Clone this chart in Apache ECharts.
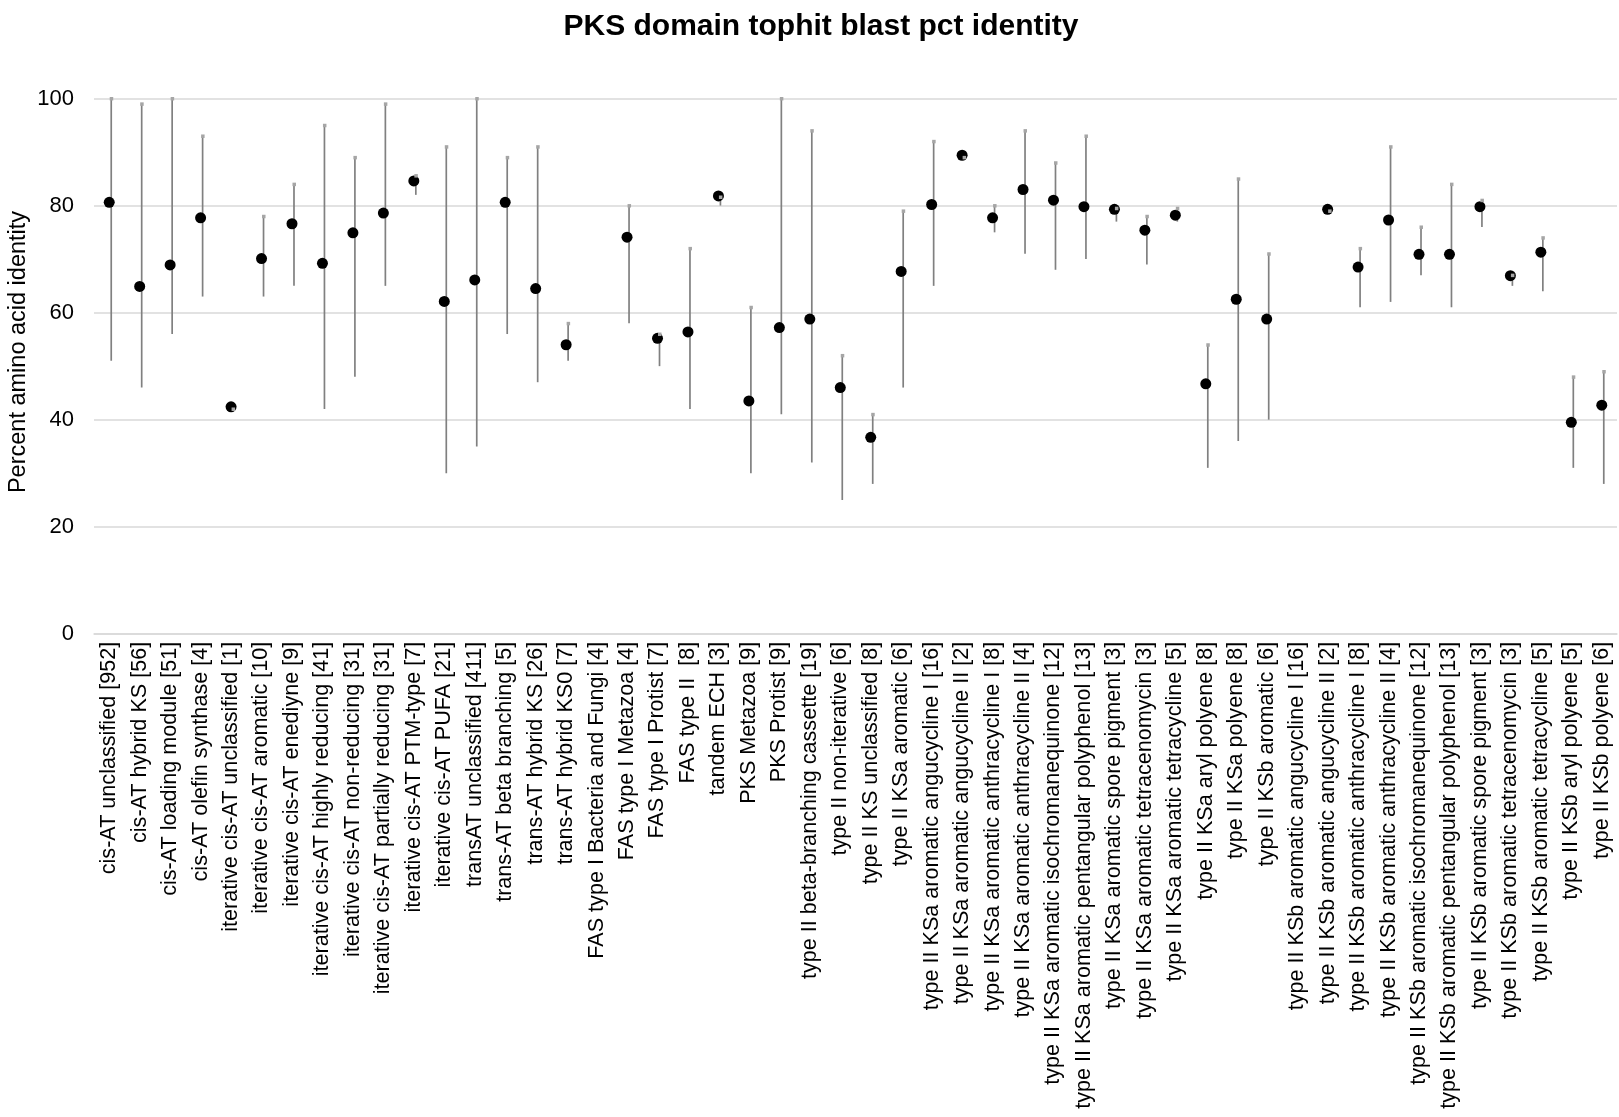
<!DOCTYPE html>
<html>
<head>
<meta charset="utf-8">
<script src="https://cdn.jsdelivr.net/npm/echarts@6/dist/echarts.min.js"></script>
<style>
html, body { margin: 0; padding: 0; background: #fff; }
#chart { width: 1619px; height: 1117px; }
</style>
</head>
<body>
<div id="chart"></div>
<script>
// domain classes with number of hits in brackets
const categories = [
    'cis-AT unclassified [952]', 'cis-AT hybrid KS [56]', 'cis-AT loading module [51]', 'cis-AT olefin synthase [4]',
    'iterative cis-AT unclassified [1]', 'iterative cis-AT aromatic [10]', 'iterative cis-AT enediyne [9]',
    'iterative cis-AT highly reducing [41]', 'iterative cis-AT non-reducing [31]', 'iterative cis-AT partially reducing [31]',
    'iterative cis-AT PTM-type [7]', 'iterative cis-AT PUFA [21]', 'transAT unclassified [411]', 'trans-AT beta branching [5]',
    'trans-AT hybrid KS [26]', 'trans-AT hybrid KS0 [7]', 'FAS type I Bacteria and Fungi [4]', 'FAS type I Metazoa [4]',
    'FAS type I Protist [7]', 'FAS type II  [8]', 'tandem ECH [3]', 'PKS Metazoa [9]', 'PKS Protist [9]',
    'type II beta-branching cassette [19]', 'type II non-iterative [6]', 'type II KS unclassified [8]',
    'type II KSa aromatic [6]', 'type II KSa aromatic angucycline I [16]', 'type II KSa aromatic angucycline II [2]',
    'type II KSa aromatic anthracycline I [8]', 'type II KSa aromatic anthracycline II [4]',
    'type II KSa aromatic isochromanequinone [12]', 'type II KSa aromatic pentangular polyphenol [13]',
    'type II KSa aromatic spore pigment [3]', 'type II KSa aromatic tetracenomycin [3]', 'type II KSa aromatic tetracycline [5]',
    'type II KSa aryl polyene [8]', 'type II KSa polyene [8]', 'type II KSb aromatic [6]',
    'type II KSb aromatic angucycline I [16]', 'type II KSb aromatic angucycline II [2]',
    'type II KSb aromatic anthracycline I [8]', 'type II KSb aromatic anthracycline II [4]',
    'type II KSb aromatic isochromanequinone [12]', 'type II KSb aromatic pentangular polyphenol [13]',
    'type II KSb aromatic spore pigment [3]', 'type II KSb aromatic tetracenomycin [3]', 'type II KSb aromatic tetracycline [5]',
    'type II KSb aryl polyene [5]', 'type II KSb polyene [6]'
]

// mean pct identity (black dots)
const meanValues = [80.6, 64.9, 68.9, 77.7, 42.4, 70.1, 76.6, 69.2, 74.9, 78.6,
    84.6, 62.1, 66.1, 80.6, 64.5, 54.0, null, 74.1, 55.2, 56.4,
    81.8, 43.5, 57.2, 58.8, 46.0, 36.7, 67.7, 80.2, 89.4, 77.7,
    83.0, 81.0, 79.8, 79.3, 75.4, 78.2, 46.7, 62.5, 58.8, null,
    79.3, 68.5, 77.3, 70.9, 70.9, 79.8, 66.9, 71.3, 39.5, 42.7]

// max and min pct identity (grey range lines)
const maxValues = [100, 99, 100, 93, 42, 78, 84, 95, 89, 99,
    85.6, 91, 100, 89, 91, 58, null, 80, 56, 72,
    81.6, 61, 100, 94, 52, 41, 79, 92, 89, 80,
    94, 88, 93, 79.5, 78, 79.5, 54, 85, 71, null,
    79, 72, 91, 76, 84, 81, 67, 74, 48, 49]
const minValues = [51, 46, 56, 63, 42, 63, 65, 42, 48, 65,
    82, 30, 35, 56, 47, 51, null, 58, 50, 42,
    80, 30, 41, 32, 25, 28, 46, 65, 88.8, 75,
    71, 68, 70, 77, 69, 77, 31, 36, 40, null,
    78.8, 61, 62, 67, 61, 76, 65, 64, 31, 28]

const rangeData = []
categories.forEach((c, i) => {
    if (minValues[i] != null) rangeData.push([i, minValues[i], maxValues[i]])
})

const font = 'Liberation Sans, Arial, sans-serif'

const charts = echarts.init(document.getElementById('chart'))
charts.setOption({
    animation: false,
    title: {
        text: 'PKS domain tophit blast pct identity',
        left: 816,
        textAlign: 'center',
        top: 7,
        textStyle: { fontFamily: font, fontSize: 30, fontWeight: 'bold', color: '#000' }
    },
    // axis title sits a bit above the plot middle in the original
    graphic: [
        {
            type: 'text',
            x: 19,
            y: 352,
            rotation: Math.PI / 2,
            style: {
                text: 'Percent amino acid identity',
                fontFamily: font,
                fontSize: 23.5,
                fill: '#000',
                align: 'center',
                verticalAlign: 'middle'
            }
        }
    ],
    grid: {
        left: 94,
        right: 2,
        top: 98.5,
        bottom: 1117 - 633.8,
        containLabel: false,
        outerBoundsMode: 'none'
    },
    xAxis: {
        type: 'category',
        data: categories,
        boundaryGap: true,
        axisLine: { lineStyle: { color: '#d9d9d9', width: 1.5 } },
        axisTick: { show: false },
        axisLabel: {
            interval: 0,
            rotate: 90,
            margin: 8,
            fontFamily: font,
            fontSize: 21.6,
            color: '#000'
        }
    },
    yAxis: {
        type: 'value',
        min: 0,
        max: 100,
        interval: 20,
        axisLine: { show: false },
        axisTick: { show: false },
        axisLabel: { margin: 20, fontFamily: font, fontSize: 22, color: '#000' },
        splitLine: { lineStyle: { color: '#d9d9d9', width: 1.5 } }
    },
    series: [
        {
            name: 'range',
            type: 'custom',
            z: 1,
            data: rangeData,
            renderItem: (params, api) => {
                const lo = api.coord([api.value(0), api.value(1)])
                const hi = api.coord([api.value(0), api.value(2)])
                return {
                    type: 'line',
                    shape: { x1: lo[0] + 2, y1: lo[1], x2: hi[0] + 2, y2: hi[1] },
                    style: { stroke: '#808080', lineWidth: 1.7 }
                }
            }
        },
        {
            name: 'mean',
            type: 'scatter',
            z: 2,
            symbol: 'circle',
            symbolSize: 11,
            itemStyle: { color: '#000', opacity: 1 },
            data: meanValues
        },
        {
            name: 'max',
            type: 'custom',
            z: 3,
            data: rangeData,
            renderItem: (params, api) => {
                const hi = api.coord([api.value(0), api.value(2)])
                return {
                    type: 'rect',
                    shape: { x: hi[0] + 0.5, y: hi[1] - 1.5, width: 3.5, height: 3.5 },
                    style: { fill: '#a6a6a6' }
                }
            }
        }
    ]
})
</script>
</body>
</html>
